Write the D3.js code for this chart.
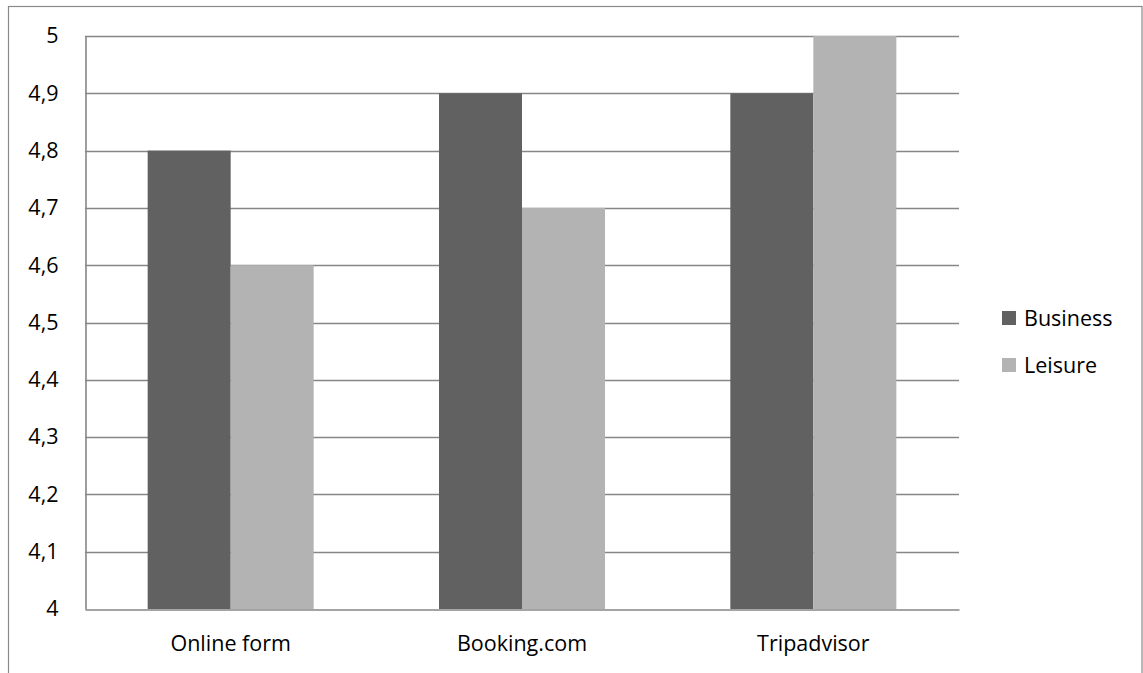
<!DOCTYPE html>
<html>
<head>
<meta charset="utf-8">
<script src="https://cdn.jsdelivr.net/npm/d3@7"></script>
<style>
html,body{margin:0;padding:0;background:#fff;}
svg{display:block;}
text{font-family:"Open Sans","Noto Sans",sans-serif;fill:#000;}
</style>
</head>
<body>
<svg id="chart" width="1143" height="673"></svg>
<script>
const categories = ["Online form", "Booking.com", "Tripadvisor"];
const seriesNames = ["Business", "Leisure"];
const business = [4.8, 4.9, 4.9];
const leisure = [4.6, 4.7, 5.0];
const yTicks = [4, 4.1, 4.2, 4.3, 4.4, 4.5, 4.6, 4.7, 4.8, 4.9, 5];
const colors = ["#616161", "#b3b3b3"];

const svg = d3.select("#chart");
const plot = {left: 85, right: 959, top: 36, bottom: 609};
const FS = "21.5px";

// outer border
svg.append("rect").attr("x", 8.5).attr("y", 6.5).attr("width", 1133.5).attr("height", 700)
  .attr("fill", "none").attr("stroke", "#8a8a8a").attr("stroke-width", 1.2);

const y = d3.scaleLinear().domain([4, 5]).range([plot.bottom, plot.top]);
const x0 = d3.scaleBand().domain(categories).range([plot.left, plot.right]).padding(0);
const x1 = d3.scaleBand().domain(seriesNames).range([0, x0.bandwidth()]).paddingInner(0).paddingOuter(0.755);

// gridlines
svg.append("g").selectAll("line").data(yTicks.filter(d => d > 4)).join("line")
  .attr("x1", plot.left).attr("x2", plot.right)
  .attr("y1", d => Math.round(y(d)) + 0.5).attr("y2", d => Math.round(y(d)) + 0.5)
  .attr("stroke", "#868686").attr("stroke-width", 1.6);

// bars
const data = categories.map((c, i) => ({cat: c, vals: [business[i], leisure[i]]}));
const groups = svg.append("g").selectAll("g").data(data).join("g")
  .attr("transform", d => `translate(${x0(d.cat)},0)`);
groups.selectAll("rect").data(d => d.vals.map((v, j) => ({name: seriesNames[j], v, j}))).join("rect")
  .attr("x", d => x1(d.name))
  .attr("width", x1.bandwidth())
  .attr("y", d => y(d.v))
  .attr("height", d => y(4) - y(d.v))
  .attr("fill", d => colors[d.j]);

// y axis
const yAxis = d3.axisLeft(y).tickValues(yTicks).tickSize(0).tickPadding(27)
  .tickFormat(d => d3.format(".1~f")(d).replace(".", ","));
const gy = svg.append("g").attr("transform", `translate(${plot.left + 0.5},0)`).call(yAxis);
gy.select(".domain").attr("stroke", "#868686").attr("stroke-width", 1.6);
gy.selectAll("text").style("font-size", FS).attr("font-family", null);

// x axis
const xAxis = d3.axisBottom(x0).tickSize(0).tickPadding(26);
const gx = svg.append("g").attr("transform", `translate(0,${plot.bottom + 0.5})`).call(xAxis);
gx.select(".domain").attr("stroke", "#868686").attr("stroke-width", 1.6);
gx.selectAll("text").style("font-size", FS).attr("font-family", null);

// legend
const legend = svg.append("g").selectAll("g").data(seriesNames).join("g")
  .attr("transform", (d, i) => `translate(1002,${311 + i * 47})`);
legend.append("rect").attr("width", 14).attr("height", 14).attr("fill", (d, i) => colors[i]);
legend.append("text").attr("x", 22).attr("y", 7).attr("dy", "0.35em")
  .style("font-size", FS).text(d => d);
</script>
</body>
</html>
